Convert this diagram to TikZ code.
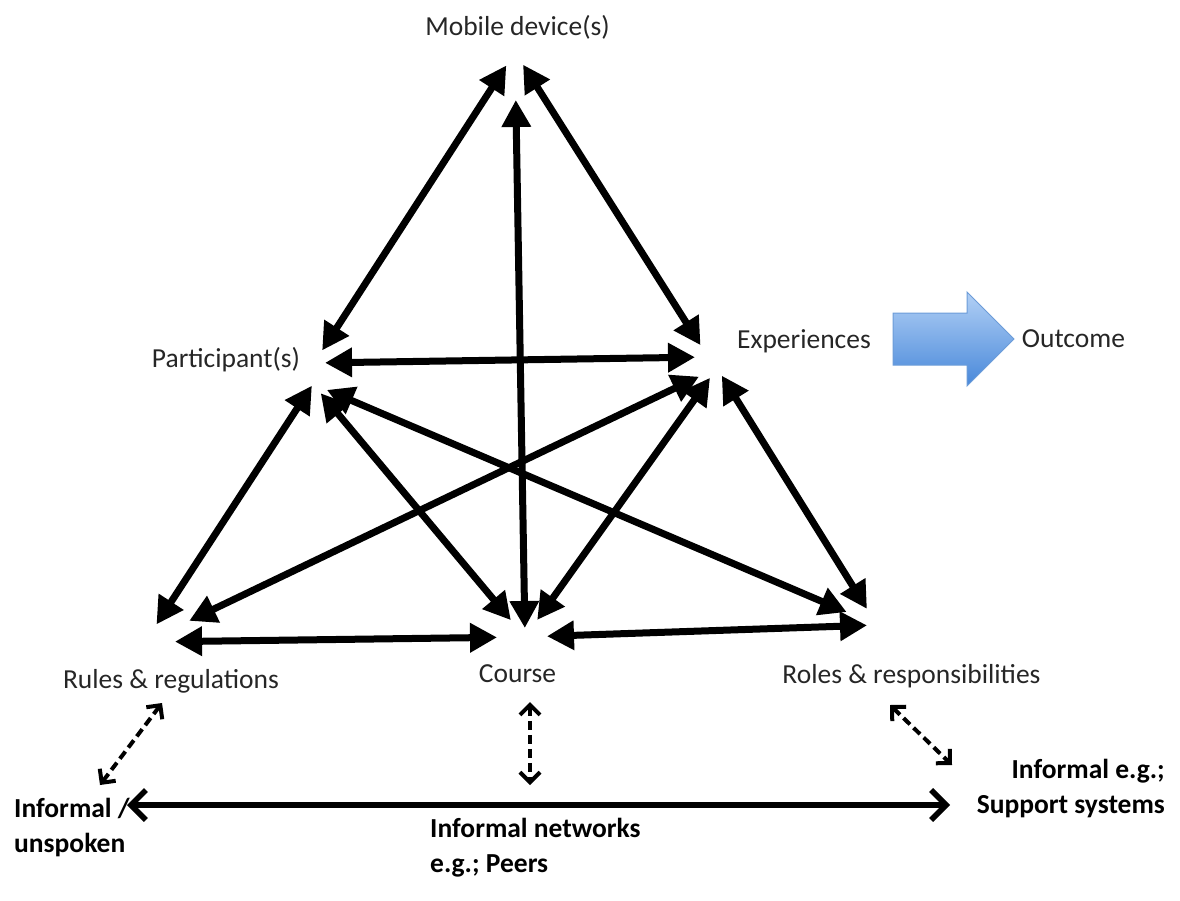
\documentclass[tikz,border=0pt]{standalone}
\usepackage{fontspec}
\setmainfont{Carlito}
\usepackage{xcolor}
\usetikzlibrary{arrows.meta}
\definecolor{labgray}{HTML}{262626}
\definecolor{bluetop}{HTML}{B2D0F5}
\definecolor{bluebot}{HTML}{4888DA}
\definecolor{blueedge}{HTML}{6C9CD8}

\begin{document}
\begin{tikzpicture}[x=1pt, y=-1pt,
  lab/.style={inner sep=0pt, text=labgray, font=\fontsize{27.5}{35}\selectfont},
  boldlab/.style={inner sep=0pt, font=\fontsize{27.5}{35}\selectfont\bfseries},
  link/.style={line width=7pt, {Triangle[length=27pt,width=28pt]}-{Triangle[length=27pt,width=28pt]}},
  loose/.style={line width=4pt, dash pattern=on 9pt off 5pt, {Straight Barb[length=10pt,width=20pt]}-{Straight Barb[length=10pt,width=20pt]}},
  bar/.style={line width=5.5pt, {Straight Barb[length=15pt,width=30pt]}-{Straight Barb[length=15pt,width=30pt]}}]
  \useasboundingbox (0,0) rectangle (1180,900);
  \node[lab, anchor=base] (mob) at (517.5,35) {Mobile device(s)};
  \node[lab, anchor=base] (part) at (226,367) {Participant(s)};
  \node[lab, anchor=base] (exp) at (804,348) {Experiences};
  \node[lab, anchor=base] (out) at (1073.5,347) {Outcome};
  \node[lab, anchor=base] (rules) at (171,688) {Rules \& regulations};
  \node[lab, anchor=base] (course) at (517.5,682) {Course};
  \node[lab, anchor=base] (roles) at (911.5,683) {Roles \& responsibilities};
  \node[boldlab, anchor=base west, align=left] (unsp) at (14,852) {Informal /\\unspoken};
  \node[boldlab, anchor=base east, align=right] (supp) at (1165,813) {Informal e.g.;\\Support systems};
  \node[boldlab, anchor=base west, align=left] (net) at (430,872) {Informal networks\\e.g.; Peers};
  \coordinate (mob-h) at (515,52);
  \coordinate (part-h1) at (314,363);
  \coordinate (part-h2) at (313,384);
  \coordinate (exp-h1) at (708,357);
  \coordinate (exp-h2) at (717,368);
  \coordinate (rules-h) at (145,642);
  \coordinate (course-h) at (525,637);
  \coordinate (roles-h) at (877,625);
  \draw[link, shorten <=15pt, shorten >=16pt] (part-h1) -- (mob-h);
  \draw[link, shorten <=48pt, shorten >=9pt] (mob-h) -- (course-h);
  \draw[link, shorten <=15pt, shorten >=14pt] (mob-h) -- (exp-h1);
  \draw[link, shorten <=11pt, shorten >=13pt] (part-h1) -- (exp-h1);
  \draw[link, shorten <=2pt, shorten >=21pt] (part-h2) -- (rules-h);
  \draw[link, shorten <=12pt, shorten >=22pt] (part-h2) -- (course-h);
  \draw[link, shorten <=15pt, shorten >=33pt] (part-h2) -- (roles-h);
  \draw[link, shorten <=20pt, shorten >=49pt] (exp-h2) -- (rules-h);
  \draw[link, shorten <=12pt, shorten >=21pt] (exp-h2) -- (course-h);
  \draw[link, shorten <=9pt, shorten >=19pt] (exp-h2) -- (roles-h);
  \draw[link, shorten <=30pt, shorten >=28pt] (rules-h) -- (course-h);
  \draw[link, shorten <=22pt, shorten >=10pt] (course-h) -- (roles-h);
  \coordinate (rules-d) at (162,703);
  \coordinate (unsp-d) at (100,785);
  \coordinate (course-d) at (530,702);
  \coordinate (net-d) at (530,785);
  \coordinate (roles-d) at (890,705);
  \coordinate (supp-d) at (952,765);
  \draw[loose] (rules-d) -- (unsp-d);
  \draw[loose] (course-d) -- (net-d);
  \draw[loose] (roles-d) -- (supp-d);
  \coordinate (unsp-b) at (127,805);
  \coordinate (supp-b) at (950,805);
  \draw[bar] (unsp-b) -- (supp-b);
  \shade[top color=bluetop, bottom color=bluebot, draw=blueedge, line width=1pt] (893,313) -- (967,313) -- (967,292) -- (1014,339) -- (967,386) -- (967,365) -- (893,365) -- cycle;
\end{tikzpicture}
\end{document}
